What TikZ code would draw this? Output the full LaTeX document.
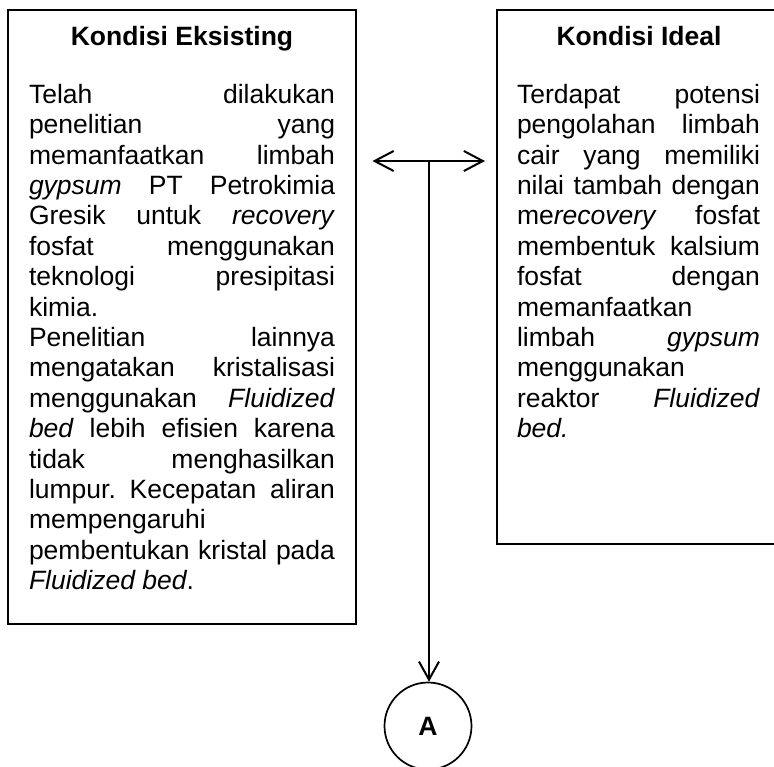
\documentclass[tikz,border=0pt]{standalone}
\usepackage{fontspec}
\setmainfont{Liberation Sans}
\usetikzlibrary{arrows.meta}
\newcommand{\jline}[1]{\hbox to \hsize{#1}}
\newcommand{\lline}[1]{\hbox to \hsize{#1\hfill}}
\tikzset{
  box/.style={draw, line width=2pt, inner sep=0pt, outer sep=0pt, anchor=north west},
  para/.style={inner sep=0pt, outer sep=0pt, anchor=base west, font=\fontsize{26.5pt}{30.4pt}\selectfont},
  title/.style={inner sep=0pt, outer sep=0pt, anchor=base, font=\fontsize{26.5pt}{30.4pt}\selectfont\bfseries},
  conn/.style={line width=2pt, arrows={Straight Barb[length=19pt,width=20pt,line width=2pt]-Straight Barb[length=19pt,width=20pt,line width=2pt]}},
  down/.style={line width=2pt, -{Straight Barb[length=18pt,width=20pt,line width=2pt]}},
  circ/.style={draw, circle, line width=1.7pt, minimum size=87pt, inner sep=0pt, font=\fontsize{26.5pt}{30.4pt}\selectfont\bfseries}
}
\begin{document}
\begin{tikzpicture}[x=1pt,y=-1pt]
\useasboundingbox (0,0) rectangle (774,766);
\clip (0,0) rectangle (774,766);
% boxes
\node[box, minimum width=348pt, minimum height=614pt] (kiri) at (8,10) {};
\node[box, minimum width=300pt, minimum height=534pt] (kanan) at (497,10) {};
% titles
\node[title] (tk) at (182,45) {Kondisi Eksisting};
\node[title] (tr) at (639,45) {Kondisi Ideal};
% left paragraph
\node[para] (pk) at (29,103.3) {\vtop{\hsize=306pt \baselineskip=30.4pt \lineskiplimit=-20pt
\jline{Telah\hfill dilakukan}
\jline{penelitian\hfill yang}
\jline{memanfaatkan\hfill limbah}
\jline{\textit{gypsum}\hfill PT\hfill Petrokimia}
\jline{Gresik\hfill untuk\hfill \textit{recovery}}
\jline{fosfat\hfill menggunakan}
\jline{teknologi\hfill presipitasi}
\lline{kimia.}
\jline{Penelitian\hfill lainnya}
\jline{mengatakan\hfill kristalisasi}
\jline{menggunakan\hfill \textit{Fluidized}}
\jline{\textit{bed}\hfill lebih\hfill efisien\hfill karena}
\jline{tidak\hfill menghasilkan}
\jline{lumpur.\hfill Kecepatan\hfill aliran}
\lline{mempengaruhi}
\jline{pembentukan\hfill kristal\hfill pada}
\lline{\textit{Fluidized bed}.}
}};
% right paragraph
\node[para] (pr) at (517,103.3) {\vtop{\hsize=243pt \baselineskip=30.4pt \lineskiplimit=-20pt
\jline{Terdapat\hfill potensi}
\jline{pengolahan\hfill limbah}
\jline{cair\hfill yang\hfill memiliki}
\jline{nilai\hfill tambah\hfill dengan}
\jline{me\textit{recovery}\hfill fosfat}
\jline{membentuk\hfill kalsium}
\jline{fosfat\hfill dengan}
\lline{memanfaatkan}
\jline{limbah\hfill \textit{gypsum}}
\lline{menggunakan}
\jline{reaktor\hfill \textit{Fluidized}}
\lline{\textit{bed.}}
}};
% circle
\node[circ] (A) at (428,726) {A};
% connectors
\coordinate (la) at (372.5,161);
\coordinate (ra) at (485,161);
\coordinate (T) at (429,161);
\draw[conn] (la) -- (ra);
\draw[down] (T) -- (T |- A.north);
\end{tikzpicture}
\end{document}
